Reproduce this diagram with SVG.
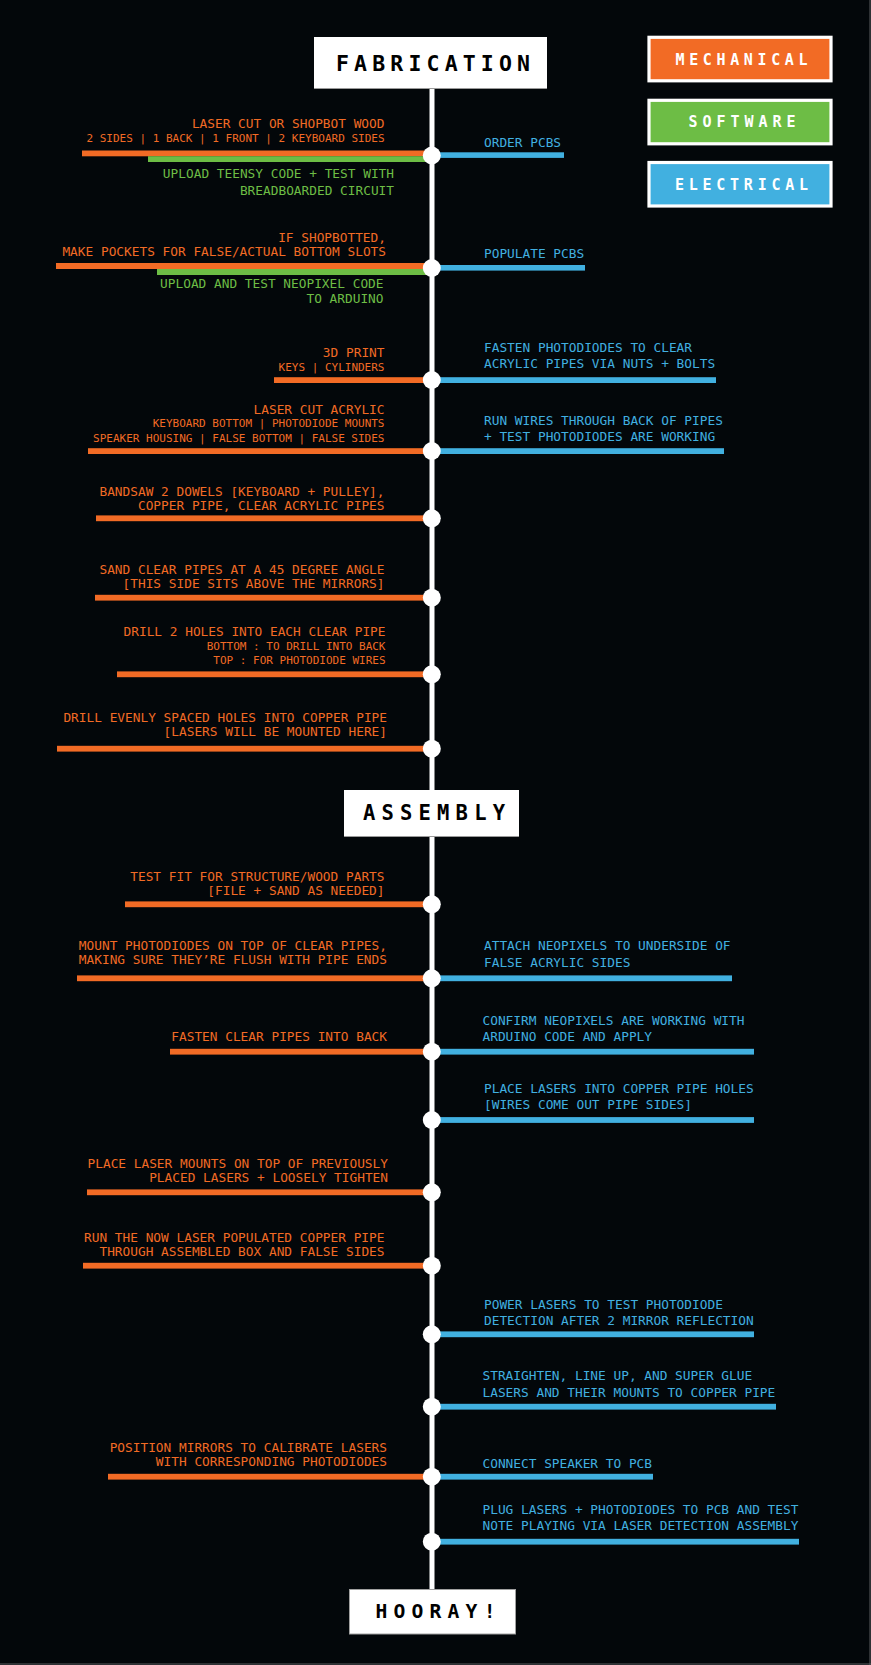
<svg xmlns="http://www.w3.org/2000/svg" width="871" height="1665" viewBox="0 0 871 1665">
<style>
.bg{fill:#03070a}
.o{fill:#f26b25}
.g{fill:#6dbd45}
.b{fill:#41b0e0}
.t{font-family:"DejaVu Sans Mono","Liberation Mono",monospace;font-size:12.8px}
.s{font-size:11px}
.L{text-anchor:end}
.hd{font-family:"DejaVu Sans Mono","Liberation Mono",monospace;font-weight:bold;fill:#000}
.lg{font-family:"DejaVu Sans Mono","Liberation Mono",monospace;font-weight:bold;font-size:15px;fill:#fff}
.box{fill:#fff}
.dot{fill:#fff}
</style>
<rect class="bg" x="0" y="0" width="871" height="1665"/>
<line x1="870" y1="0" x2="870" y2="1665" stroke="#5a5c5e" stroke-width="1"/>
<line x1="0" y1="1664" x2="871" y2="1664" stroke="#5a5c5e" stroke-width="1"/>

<g id="connectors">
  <rect x="429.5" y="88" width="5" height="1502" fill="#fff"/>
  <rect class="o" x="82" y="150.5" width="350" height="5.8"/>
  <rect class="g" x="148" y="156.2" width="284" height="5.8"/>
  <rect class="b" x="432" y="152.3" width="132" height="5.6"/>
  <rect class="o" x="56" y="263" width="376" height="6"/>
  <rect class="g" x="157" y="269" width="275" height="6"/>
  <rect class="b" x="432" y="265" width="153" height="5.6"/>
  <rect class="o" x="274" y="377.2" width="158" height="5.8"/>
  <rect class="b" x="432" y="377.2" width="284" height="5.8"/>
  <rect class="o" x="88" y="448.2" width="344" height="5.8"/>
  <rect class="b" x="432" y="448.2" width="292" height="5.8"/>
  <rect class="o" x="96" y="515.4" width="336" height="5.8"/>
  <rect class="o" x="95" y="594.8" width="337" height="5.8"/>
  <rect class="o" x="117" y="671.4" width="315" height="5.8"/>
  <rect class="o" x="57" y="745.8" width="375" height="5.8"/>
  <rect class="o" x="125" y="901.4" width="307" height="5.8"/>
  <rect class="o" x="77" y="975.4" width="355" height="5.8"/>
  <rect class="b" x="432" y="975.4" width="300" height="5.8"/>
  <rect class="o" x="170" y="1048.8" width="262" height="5.8"/>
  <rect class="b" x="432" y="1048.8" width="322" height="5.8"/>
  <rect class="b" x="432" y="1117.1" width="322" height="5.8"/>
  <rect class="o" x="87" y="1189.4" width="345" height="5.8"/>
  <rect class="o" x="83" y="1262.8" width="349" height="5.8"/>
  <rect class="b" x="432" y="1331.4" width="322" height="5.8"/>
  <rect class="b" x="432" y="1403.8" width="344" height="5.8"/>
  <rect class="o" x="108" y="1473.8" width="324" height="5.8"/>
  <rect class="b" x="432" y="1473.8" width="221" height="5.8"/>
  <rect class="b" x="432" y="1538.8" width="367" height="5.8"/>
</g>

<g id="dots">
  <ellipse class="dot" cx="431.8" cy="155.5" rx="9" ry="9"/>
  <ellipse class="dot" cx="431.8" cy="268" rx="9" ry="9"/>
  <ellipse class="dot" cx="431.8" cy="380" rx="9" ry="9"/>
  <ellipse class="dot" cx="431.8" cy="451" rx="9" ry="9"/>
  <ellipse class="dot" cx="431.8" cy="518.3" rx="9" ry="9"/>
  <ellipse class="dot" cx="431.8" cy="597.7" rx="9" ry="9"/>
  <ellipse class="dot" cx="431.8" cy="674.3" rx="9" ry="9"/>
  <ellipse class="dot" cx="431.8" cy="748.7" rx="9" ry="9"/>
  <ellipse class="dot" cx="431.8" cy="904.3" rx="9" ry="9"/>
  <ellipse class="dot" cx="431.8" cy="978.3" rx="9" ry="9"/>
  <ellipse class="dot" cx="431.8" cy="1051.7" rx="9" ry="9"/>
  <ellipse class="dot" cx="431.8" cy="1120" rx="9" ry="9"/>
  <ellipse class="dot" cx="431.8" cy="1192.3" rx="9" ry="9"/>
  <ellipse class="dot" cx="431.8" cy="1265.7" rx="9" ry="9"/>
  <ellipse class="dot" cx="431.8" cy="1334.3" rx="9" ry="9"/>
  <ellipse class="dot" cx="431.8" cy="1406.7" rx="9" ry="9"/>
  <ellipse class="dot" cx="431.8" cy="1476.7" rx="9" ry="9"/>
  <ellipse class="dot" cx="431.8" cy="1541.7" rx="9" ry="9"/>
</g>

<g id="fabrication">
  <rect class="box" x="314" y="37" width="233" height="52"/>
  <line x1="314" y1="88.5" x2="547" y2="88.5" stroke="#9a9a9a" stroke-width="1"/>
  <text class="hd" x="336" y="70.5" font-size="21.5" textLength="194" lengthAdjust="spacing">FABRICATION</text>
</g>
<g id="assembly">
  <rect class="box" x="344" y="790" width="175" height="47"/>
  <line x1="344" y1="836.5" x2="519" y2="836.5" stroke="#9a9a9a" stroke-width="1"/>
  <text class="hd" x="363" y="820" font-size="20.5" textLength="142" lengthAdjust="spacing">ASSEMBLY</text>
</g>
<g id="hooray">
  <rect class="box" x="349.5" y="1589.5" width="166" height="44.5" stroke="#a0a0a0" stroke-width="1"/>
  <text class="hd" x="375.5" y="1618.3" font-size="19.7" textLength="120" lengthAdjust="spacing">HOORAY!</text>
</g>

<g id="legend-mechanical">
  <rect class="o" x="649" y="37.3" width="182" height="43.5" stroke="#fff" stroke-width="3.2"/>
  <text class="lg" x="675.5" y="64.5" textLength="132" lengthAdjust="spacing">MECHANICAL</text>
</g>
<g id="legend-software">
  <rect class="g" x="649" y="100.3" width="182" height="43.5" stroke="#fff" stroke-width="3.2"/>
  <text class="lg" x="688.5" y="127.3" textLength="107" lengthAdjust="spacing">SOFTWARE</text>
</g>
<g id="legend-electrical">
  <rect class="b" x="649" y="162.5" width="182" height="43.5" stroke="#fff" stroke-width="3.2"/>
  <text class="lg" x="675" y="190" textLength="133" lengthAdjust="spacing">ELECTRICAL</text>
</g>

<g id="step1">
  <text class="t L o" x="384.5" y="128">LASER CUT OR SHOPBOT WOOD</text>
  <text class="t s L o" x="384.5" y="142">2 SIDES | 1 BACK | 1 FRONT | 2 KEYBOARD SIDES</text>
  <text class="t b" x="484" y="147">ORDER PCBS</text>
  <text class="t L g" x="394" y="178">UPLOAD TEENSY CODE + TEST WITH</text>
  <text class="t L g" x="394" y="195">BREADBOARDED CIRCUIT</text>
</g>
<g id="step2">
  <text class="t L o" x="386" y="241.7">IF SHOPBOTTED,</text>
  <text class="t L o" x="386" y="255.7">MAKE POCKETS FOR FALSE/ACTUAL BOTTOM SLOTS</text>
  <text class="t b" x="484" y="258">POPULATE PCBS</text>
  <text class="t L g" x="383.5" y="288">UPLOAD AND TEST NEOPIXEL CODE</text>
  <text class="t L g" x="383.5" y="302.7">TO ARDUINO</text>
</g>
<g id="step3">
  <text class="t L o" x="384.5" y="356.7">3D PRINT</text>
  <text class="t s L o" x="384.5" y="370.7">KEYS | CYLINDERS</text>
  <text class="t b" x="484" y="351.7">FASTEN PHOTODIODES TO CLEAR</text>
  <text class="t b" x="484" y="367.7">ACRYLIC PIPES VIA NUTS + BOLTS</text>
</g>
<g id="step4">
  <text class="t L o" x="384.5" y="414">LASER CUT ACRYLIC</text>
  <text class="t s L o" x="384.5" y="427.3">KEYBOARD BOTTOM | PHOTODIODE MOUNTS</text>
  <text class="t s L o" x="384.5" y="442">SPEAKER HOUSING | FALSE BOTTOM | FALSE SIDES</text>
  <text class="t b" x="484" y="425">RUN WIRES THROUGH BACK OF PIPES</text>
  <text class="t b" x="484" y="441">+ TEST PHOTODIODES ARE WORKING</text>
</g>
<g id="step5">
  <text class="t L o" x="384.5" y="496">BANDSAW 2 DOWELS [KEYBOARD + PULLEY],</text>
  <text class="t L o" x="384.5" y="510">COPPER PIPE, CLEAR ACRYLIC PIPES</text>
</g>
<g id="step6">
  <text class="t L o" x="384.5" y="574">SAND CLEAR PIPES AT A 45 DEGREE ANGLE</text>
  <text class="t L o" x="384.5" y="588">[THIS SIDE SITS ABOVE THE MIRRORS]</text>
</g>
<g id="step7">
  <text class="t L o" x="385.5" y="636">DRILL 2 HOLES INTO EACH CLEAR PIPE</text>
  <text class="t s L o" x="385.5" y="650">BOTTOM : TO DRILL INTO BACK</text>
  <text class="t s L o" x="385.5" y="664">TOP : FOR PHOTODIODE WIRES</text>
</g>
<g id="step8">
  <text class="t L o" x="387" y="721.7">DRILL EVENLY SPACED HOLES INTO COPPER PIPE</text>
  <text class="t L o" x="387" y="736">[LASERS WILL BE MOUNTED HERE]</text>
</g>
<g id="step9">
  <text class="t L o" x="384.5" y="881">TEST FIT FOR STRUCTURE/WOOD PARTS</text>
  <text class="t L o" x="384.5" y="895">[FILE + SAND AS NEEDED]</text>
</g>
<g id="step10">
  <text class="t L o" x="387" y="950">MOUNT PHOTODIODES ON TOP OF CLEAR PIPES,</text>
  <text class="t L o" x="387" y="964">MAKING SURE THEY’RE FLUSH WITH PIPE ENDS</text>
  <text class="t b" x="484" y="950">ATTACH NEOPIXELS TO UNDERSIDE OF</text>
  <text class="t b" x="484" y="966.7">FALSE ACRYLIC SIDES</text>
</g>
<g id="step11">
  <text class="t L o" x="387" y="1040.7">FASTEN CLEAR PIPES INTO BACK</text>
  <text class="t b" x="482.5" y="1025">CONFIRM NEOPIXELS ARE WORKING WITH</text>
  <text class="t b" x="482.5" y="1040.7">ARDUINO CODE AND APPLY</text>
</g>
<g id="step12">
  <text class="t b" x="484" y="1092.7">PLACE LASERS INTO COPPER PIPE HOLES</text>
  <text class="t b" x="484" y="1109">[WIRES COME OUT PIPE SIDES]</text>
</g>
<g id="step13">
  <text class="t L o" x="388" y="1167.7">PLACE LASER MOUNTS ON TOP OF PREVIOUSLY</text>
  <text class="t L o" x="388" y="1181.7">PLACED LASERS + LOOSELY TIGHTEN</text>
</g>
<g id="step14">
  <text class="t L o" x="384.5" y="1241.7">RUN THE NOW LASER POPULATED COPPER PIPE</text>
  <text class="t L o" x="384.5" y="1255.7">THROUGH ASSEMBLED BOX AND FALSE SIDES</text>
</g>
<g id="step15">
  <text class="t b" x="484" y="1308.7">POWER LASERS TO TEST PHOTODIODE</text>
  <text class="t b" x="484" y="1325">DETECTION AFTER 2 MIRROR REFLECTION</text>
</g>
<g id="step16">
  <text class="t b" x="482.5" y="1380">STRAIGHTEN, LINE UP, AND SUPER GLUE</text>
  <text class="t b" x="482.5" y="1396.7">LASERS AND THEIR MOUNTS TO COPPER PIPE</text>
</g>
<g id="step17">
  <text class="t L o" x="387" y="1451.7">POSITION MIRRORS TO CALIBRATE LASERS</text>
  <text class="t L o" x="387" y="1465.7">WITH CORRESPONDING PHOTODIODES</text>
  <text class="t b" x="482.5" y="1467.7">CONNECT SPEAKER TO PCB</text>
</g>
<g id="step18">
  <text class="t b" x="482.5" y="1514">PLUG LASERS + PHOTODIODES TO PCB AND TEST</text>
  <text class="t b" x="482.5" y="1530">NOTE PLAYING VIA LASER DETECTION ASSEMBLY</text>
</g>
</svg>
